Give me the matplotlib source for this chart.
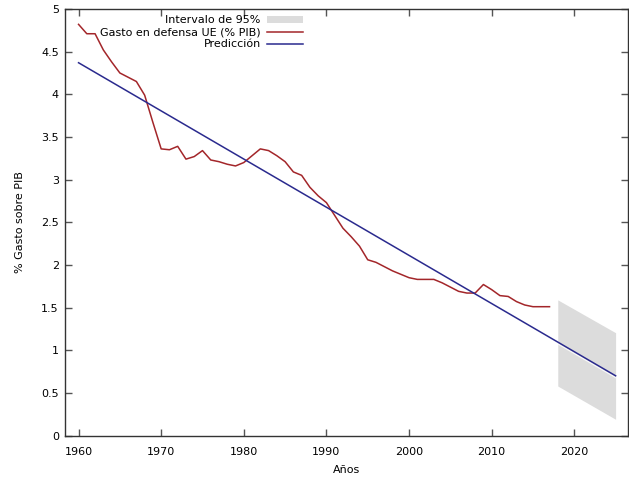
import matplotlib.pyplot as plt
from matplotlib.ticker import FormatStrFormatter, MultipleLocator

# EU defence spending (% of GDP)
years = list(range(1960, 2018))
spending = [4.82, 4.71, 4.71, 4.52, 4.38, 4.25, 4.20, 4.15, 3.99, 3.67,
            3.36, 3.35, 3.39, 3.24, 3.27, 3.34, 3.23, 3.21, 3.18, 3.16,
            3.20, 3.28, 3.36, 3.34, 3.28, 3.21, 3.09, 3.05, 2.91, 2.81,
            2.73, 2.58, 2.43, 2.33, 2.22, 2.06, 2.03, 1.98, 1.93, 1.89,
            1.85, 1.83, 1.83, 1.83, 1.79, 1.74, 1.69, 1.67, 1.67, 1.77,
            1.71, 1.64, 1.63, 1.57, 1.53, 1.51, 1.51, 1.51]

# linear trend
pred_years = [1960, 2025]
pred_values = [4.37, 0.70]

# 95% interval of the forecast
band_years = [2018, 2025]
band_lower = [0.58, 0.19]
band_upper = [1.59, 1.205]

red = '#a3262a'
blue = '#2a2a8e'

plt.rcParams['font.family'] = 'DejaVu Sans'
plt.rcParams['font.size'] = 8

fig = plt.figure(figsize=(6.29, 4.78), dpi=100)
ax = fig.add_axes([64.5 / 629, 1 - 435.5 / 478, (628 - 64.5) / 629, (435.5 - 9) / 478])

band = ax.fill_between(band_years, band_lower, band_upper, color='#dcdcdc',
                       linewidth=0, label='Intervalo de 95%')
line_data, = ax.plot(years, spending, color=red, lw=1.1,
                     label='Gasto en defensa UE (% PIB)')
# thin light seam under the trend inside the band
ax.plot(band_years, [v - 0.02 for v in [pred_values[0] - (pred_values[0] - pred_values[1]) * 58 / 65, pred_values[1]]],
        color='white', lw=1.0, alpha=0.8)
line_pred, = ax.plot(pred_years, pred_values, color=blue, lw=1.1,
                     label='Predicción')

# Formatting
ax.set_xlim(1958.3, 2026.5)
ax.set_ylim(0, 5)
ax.xaxis.set_major_locator(MultipleLocator(10))
ax.yaxis.set_major_locator(MultipleLocator(0.5))
ax.yaxis.set_major_formatter(FormatStrFormatter('%g'))
ax.tick_params(direction='in', length=5, width=1, color='#555555',
               top=True, right=True, labelsize=8)
ax.tick_params(axis='y', pad=4)
ax.tick_params(axis='x', pad=8)
for s in ax.spines.values():
    s.set_color('#333333')
    s.set_linewidth(1)

ax.set_xlabel('Años', fontsize=8, labelpad=6)
ax.set_ylabel('% Gasto sobre PIB', fontsize=8, labelpad=12)

ax.legend(handles=[band, line_data, line_pred], loc='upper right',
          bbox_to_anchor=(303 / 629, 1 - 15 / 478), bbox_transform=fig.transFigure,
          frameon=False, markerfirst=False, borderpad=0, borderaxespad=0,
          handlelength=3.2, handleheight=0.6, handletextpad=0.6,
          labelspacing=0.2, fontsize=8)

plt.savefig('out.png', dpi=100)
